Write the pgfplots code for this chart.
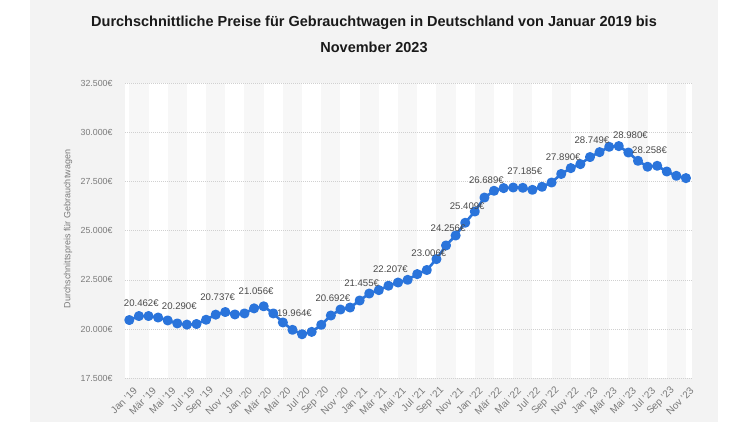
\documentclass[border=0pt]{standalone}
\usepackage{pgfplots}
\pgfplotsset{compat=1.18}
\usepackage{fontspec}
\setmainfont{Liberation Sans}
\definecolor{panel}{HTML}{F3F3F3}
\definecolor{band}{HTML}{F7F7F7}
\definecolor{lineblue}{HTML}{2A74DB}
\definecolor{tickgray}{HTML}{7A7A7A}
\definecolor{labgray}{HTML}{4A4A4A}
\definecolor{gridgray}{HTML}{D0D0D0}
\definecolor{titlecol}{HTML}{1A1A1A}

\pgfplotstableread{
x y
0 20462
1 20665
2 20665
3 20590
4 20442
5 20290
6 20230
7 20260
8 20477
9 20737
10 20869
11 20747
12 20798
13 21056
14 21160
15 20798
16 20340
17 19964
18 19740
19 19860
20 20219
21 20692
22 20997
23 21098
24 21455
25 21810
26 21983
27 22207
28 22370
29 22507
30 22797
31 23006
32 23560
33 24256
34 24760
35 25409
36 25980
37 26689
38 27033
39 27170
40 27200
41 27185
42 27083
43 27236
44 27455
45 27890
46 28187
47 28390
48 28749
49 29000
50 29270
51 29306
52 28980
53 28558
54 28258
55 28304
56 28014
57 27795
58 27678
}\pricedata

\begin{document}
\begin{tikzpicture}[x=1pt,y=1pt]
\useasboundingbox (0,0) rectangle (750,422);
\fill[white] (0,0) rectangle (750,422);
\fill[panel] (30,0) rectangle (718,422);
\node[font=\bfseries\fontsize{14.5}{16}\selectfont, text=titlecol] at (374,399) {Durchschnittliche Preise für Gebrauchtwagen in Deutschland von Januar 2019 bis};
\node[font=\bfseries\fontsize{14.5}{16}\selectfont, text=titlecol] at (374,375) {November 2023};
\node[rotate=90, font=\fontsize{9}{11}\selectfont, text=tickgray] at (68,193) {Durchschnittspreis für Gebrauchtwagen};
\begin{axis}[
  at={(125pt,43.7pt)}, anchor=south west,
  scale only axis, width=567pt, height=295pt,
  xmin=-0.45, xmax=58.63, ymin=17500, ymax=32500,
  axis line style={draw=none},
  major tick length=0pt,
  scaled y ticks=false,
  xtick={0,2,...,58},
  xticklabels={Jan '19, Mär '19, Mai '19, Jul '19, Sep '19, Nov '19,
               Jan '20, Mär '20, Mai '20, Jul '20, Sep '20, Nov '20,
               Jan '21, Mär '21, Mai '21, Jul '21, Sep '21, Nov '21,
               Jan '22, Mär '22, Mai '22, Jul '22, Sep '22, Nov '22,
               Jan '23, Mär '23, Mai '23, Jul '23, Sep '23, Nov '23},
  xticklabel style={font=\fontsize{10}{11}\selectfont, text=tickgray, rotate=45, anchor=east, yshift=-12pt, xshift=0pt},
  ytick={17500,20000,22500,25000,27500,30000,32500},
  yticklabels={17.500€,20.000€,22.500€,25.000€,27.500€,30.000€,32.500€},
  yticklabel style={font=\fontsize{8.8}{10}\selectfont, text=tickgray, anchor=east, xshift=-9pt},
  clip=false,
]
\fill[white] (axis cs:-0.45,17500) rectangle (axis cs:58.63,32500);
\pgfplotsforeachungrouped \a/\b in {0/2,4/6,8/10,12/14,16/18,20/22,24/26,28/30,32/34,36/38,40/42,44/46,48/50,52/54,56/58}{
  \edef\temp{\noexpand\fill[band] (axis cs:\a,17500) rectangle (axis cs:\b,32500);}
  \temp
}
\pgfplotsforeachungrouped \g in {17500,20000,22500,25000,27500,30000,32500}{
  \edef\temp{\noexpand\draw[gridgray, line width=0.6pt, dash pattern=on 1pt off 1pt] (axis cs:-0.45,\g) -- (axis cs:58.63,\g);}
  \temp
}
\addplot[lineblue, line width=2.6pt, line join=round, mark=*, mark size=3.7pt, mark options={solid, fill=lineblue, draw=none}] table[x=x,y=y] {\pricedata};
\addplot[draw=none, mark=none, nodes near coords, point meta=explicit symbolic,
  nodes near coords style={font=\fontsize{9.6}{11}\selectfont, text=labgray, anchor=center, yshift=17pt, xshift=2pt}]
  coordinates {
  (5,20290)[20.290€] (9,20737)[20.737€] (13,21056)[21.056€] (17,19964)[19.964€]
  (21,20692)[20.692€] (24,21455)[21.455€] (27,22207)[22.207€] (31,23006)[23.006€]
  (33,24256)[24.256€] (35,25409)[25.409€] (37,26689)[26.689€] (41,27185)[27.185€]
  (45,27890)[27.890€] (48,28749)[28.749€] (52,28980)[28.980€] (54,28258)[28.258€]
  };
\addplot[draw=none, mark=none, nodes near coords, point meta=explicit symbolic,
  nodes near coords style={font=\fontsize{9.6}{11}\selectfont, text=labgray, anchor=center, yshift=17pt, xshift=12pt}]
  coordinates {(0,20462)[20.462€]};
\end{axis}
\end{tikzpicture}
\end{document}
